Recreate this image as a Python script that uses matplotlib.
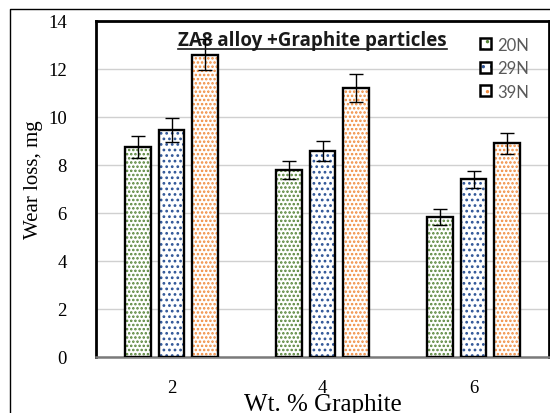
import matplotlib
matplotlib.use("Agg")
import matplotlib.pyplot as plt
import numpy as np
from matplotlib.patches import Rectangle, Patch
from matplotlib.legend_handler import HandlerBase
from matplotlib.lines import Line2D

# ---- data ----
categories = ["2", "4", "6"]
series_names = ["20N", "29N", "39N"]
wear_20N = [8.75, 7.8, 5.85]
wear_29N = [9.45, 8.6, 7.4]
wear_39N = [12.6, 11.2, 8.9]
err_20N = [0.45, 0.38, 0.33]
err_29N = [0.5, 0.42, 0.35]
err_39N = [0.65, 0.58, 0.44]
yticks = [0, 2, 4, 6, 8, 10, 12, 14]

values = [wear_20N, wear_29N, wear_39N]
errors = [err_20N, err_29N, err_39N]
colors = ["#548235", "#2f5597", "#f08a3c"]
hatches = ["....", "...", "...."]

plt.rcParams["hatch.linewidth"] = 1.2

fig = plt.figure(figsize=(5.5, 4.14), dpi=100)
W, H = 550, 414
ax = fig.add_axes([96 / W, 1 - 358 / H, (549 - 96) / W, (358 - 22) / H])

x = np.arange(len(categories)) + 0.5
offsets = [-0.222, 0.0, 0.222]
bw = 0.172

for i in range(3):
    xs = x + offsets[i]
    ax.bar(xs, values[i], width=bw, facecolor="white", edgecolor=colors[i],
           hatch=hatches[i], linewidth=0, zorder=2)
    ax.bar(xs, values[i], width=bw, facecolor="none", edgecolor="black",
           linewidth=1.7, zorder=3)
    ax.errorbar(xs, values[i], yerr=errors[i], fmt="none", ecolor="black",
                elinewidth=1.0, capsize=5, capthick=1.0, zorder=4)

ax.set_xlim(0, 3)
ax.set_ylim(0, 14)
ax.set_yticks(yticks)
ax.set_xticks(x)
ax.set_xticklabels(categories)
ax.yaxis.grid(True, color="#d0d0d0", linewidth=1.0, zorder=0)
ax.set_axisbelow(True)
ax.tick_params(length=0)
ax.tick_params(axis="y", pad=21)
ax.tick_params(axis="x", pad=16)
for lab in ax.get_yticklabels() + ax.get_xticklabels():
    lab.set_fontfamily("Liberation Serif")
    lab.set_fontsize(13.5)

for s in ["left", "top", "right"]:
    ax.spines[s].set_linewidth(2.0)
    ax.spines[s].set_color("black")
ax.spines["bottom"].set_linewidth(1.8)
ax.spines["bottom"].set_color("#7a7a7a")

ax.set_ylabel("Wear loss, mg", fontfamily="Liberation Serif", fontsize=15)
ax.yaxis.set_label_coords(-0.117, 0.53)
ax.set_xlabel("Wt. % Graphite", fontfamily="Liberation Serif", fontsize=18)
ax.xaxis.set_label_coords(0.5, -0.108)

# title inside axes
title = ax.text((312.5 - 96) / 453, (358 - 41.5) / 336, "ZA8 alloy +Graphite particles",
                transform=ax.transAxes, ha="center", va="center", fontsize=13.5,
                fontweight="bold", fontfamily="Open Sans", color="#1a1a1a", zorder=3)


class HatchHandler(HandlerBase):
    def __init__(self, color, hatch):
        super().__init__()
        self.color = color
        self.hatch = hatch

    def create_artists(self, legend, orig_handle, xdescent, ydescent, width,
                       height, fontsize, trans):
        s = min(width, height)
        x0 = -xdescent + (width - s) / 2
        y0 = -ydescent + (height - s) / 2
        r1 = Rectangle((x0, y0), s, s, facecolor="white", edgecolor=self.color,
                       hatch=self.hatch, linewidth=0, transform=trans)
        r2 = Rectangle((x0, y0), s, s, facecolor="none", edgecolor="black",
                       linewidth=1.8, transform=trans)
        return [r1, r2]


handles = [Patch(label=n) for n in series_names]
hmap = {h: HatchHandler(c, "..") for h, c in zip(handles, colors)}
leg = ax.legend(handles=handles, labels=series_names, handler_map=hmap,
                loc="upper left", bbox_to_anchor=(0.815, 0.998), frameon=False,
                handlelength=0.65, handleheight=0.65, handletextpad=0.35,
                labelspacing=0.45, prop={"family": "Lato", "size": 12})
for t in leg.get_texts():
    t.set_color("#595959")

# underline title
fig.canvas.draw()
bb = title.get_window_extent(renderer=fig.canvas.get_renderer())
uy = bb.y0 + 1.5
fig.add_artist(Line2D([bb.x0 / fig.bbox.width, bb.x1 / fig.bbox.width],
                      [uy / fig.bbox.height, uy / fig.bbox.height],
                      transform=fig.transFigure, color="#1a1a1a", linewidth=1.2))

# outer chart border
fig.add_artist(Line2D([10 / W, 10 / W, 1.0], [0, 1 - 10 / H, 1 - 10 / H],
                      transform=fig.transFigure, color="black", linewidth=1.0))

fig.savefig("out.png", dpi=100)
